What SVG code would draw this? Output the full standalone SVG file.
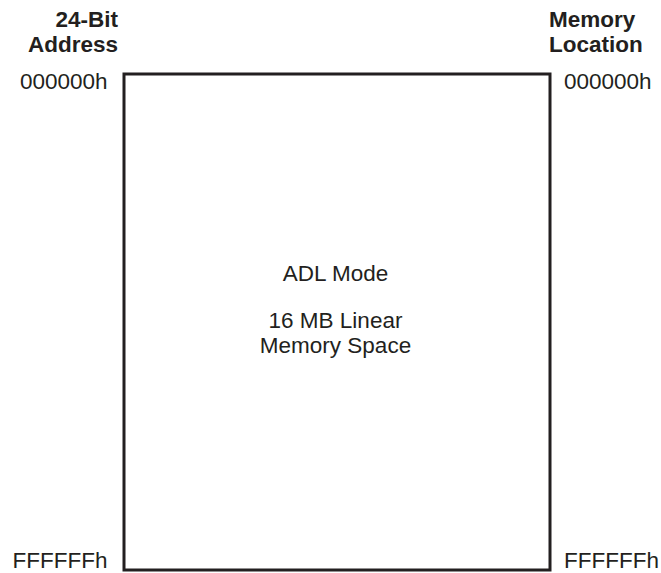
<svg xmlns="http://www.w3.org/2000/svg" width="661" height="573" viewBox="0 0 661 573">
<style>
text{font-family:"Liberation Sans",Arial,sans-serif;font-size:22.5px;fill:#231f20}
.b{font-weight:bold}
.box{fill:#fff;stroke:#231f20;stroke-width:3}
</style>
<rect width="661" height="573" fill="#fff"/>
<g id="memory-space">
<rect class="box" x="124" y="74" width="426" height="496"/>
<text x="335.5" y="281" text-anchor="middle">ADL Mode</text>
<text x="335.5" y="328" text-anchor="middle">16 MB Linear</text>
<text x="335.5" y="353" text-anchor="middle">Memory Space</text>
</g>
<g id="left-labels">
<text class="b" x="118" y="27" text-anchor="end">24-Bit</text>
<text class="b" x="118" y="52" text-anchor="end">Address</text>
<text x="107.5" y="89" text-anchor="end">000000h</text>
<text x="107.5" y="567.5" text-anchor="end">FFFFFFh</text>
</g>
<g id="right-labels">
<text class="b" x="549" y="27">Memory</text>
<text class="b" x="549" y="52">Location</text>
<text x="564" y="89">000000h</text>
<text x="564" y="567.5">FFFFFFh</text>
</g>
</svg>
